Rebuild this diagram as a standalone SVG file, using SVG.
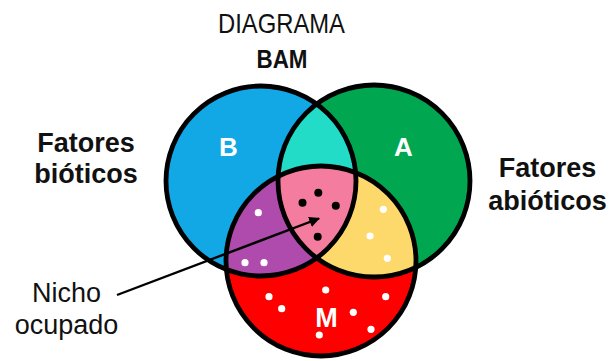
<svg xmlns="http://www.w3.org/2000/svg" width="611" height="361" viewBox="0 0 611 361">
  <style>
    .ring { fill: none; stroke: #000; stroke-width: 4.8; }
    .lbl { font-family: "Liberation Sans", Arial, sans-serif; fill: #111; text-anchor: middle; }
    .bold { font-weight: bold; }
    .set { font-family: "Liberation Sans", Arial, sans-serif; font-weight: bold; fill: #fff; text-anchor: middle; }
    .wdot { fill: #fff; }
    .kdot { fill: #000; }
  </style>
  <defs>
    <clipPath id="clipB"><circle cx="261" cy="181" r="95"/></clipPath>
    <clipPath id="clipA"><circle cx="374" cy="181" r="96"/></clipPath>
    <marker id="head" viewBox="0 0 10 10" refX="9" refY="5" markerWidth="4.5" markerHeight="4.5" orient="auto" markerUnits="strokeWidth">
      <path d="M0,0 L10,5 L0,10 Z" fill="#000"/>
    </marker>
  </defs>

  <rect width="611" height="361" fill="#fff"/>

  <!-- title -->
  <g id="title">
    <text class="lbl" x="281.5" y="33" font-size="28" textLength="127" lengthAdjust="spacingAndGlyphs">DIAGRAMA</text>
    <text class="lbl bold" x="282" y="67.5" font-size="26" textLength="51" lengthAdjust="spacingAndGlyphs">BAM</text>
  </g>

  <!-- set fills -->
  <g id="fills">
    <circle cx="261" cy="181" r="95" fill="#12A8E6"/>
    <circle cx="374" cy="181" r="96" fill="#00A650"/>
    <circle cx="321" cy="261" r="95" fill="#FF0000"/>
    <!-- B ∩ A -->
    <circle cx="374" cy="181" r="96" fill="#22DCC8" clip-path="url(#clipB)"/>
    <!-- B ∩ M -->
    <circle cx="321" cy="261" r="95" fill="#B04BAE" clip-path="url(#clipB)"/>
    <!-- A ∩ M -->
    <circle cx="321" cy="261" r="95" fill="#FDD86A" clip-path="url(#clipA)"/>
    <!-- B ∩ A ∩ M -->
    <g clip-path="url(#clipA)">
      <circle cx="321" cy="261" r="95" fill="#F47C9E" clip-path="url(#clipB)"/>
    </g>
  </g>

  <!-- node B -->
  <g id="node-B">
    <circle class="ring" cx="261" cy="181" r="95"/>
    <text class="set" x="228.5" y="156" font-size="26">B</text>
  </g>

  <!-- node A -->
  <g id="node-A">
    <circle class="ring" cx="374" cy="181" r="96"/>
    <text class="set" x="403.5" y="156" font-size="26">A</text>
  </g>

  <!-- node M -->
  <g id="node-M">
    <circle class="ring" cx="321" cy="261" r="95"/>
    <text class="set" x="326.5" y="327" font-size="27">M</text>
  </g>

  <!-- points -->
  <g id="points">
    <circle class="wdot" cx="258.3" cy="212.7" r="3.6"/>
    <circle class="wdot" cx="245" cy="262.7" r="3.6"/>
    <circle class="wdot" cx="264" cy="262.7" r="3.6"/>
    <circle class="wdot" cx="383.3" cy="209.3" r="3.6"/>
    <circle class="wdot" cx="370" cy="236" r="3.6"/>
    <circle class="wdot" cx="387.3" cy="258.3" r="3.6"/>
    <circle class="wdot" cx="325.7" cy="290" r="3.6"/>
    <circle class="wdot" cx="269" cy="296.7" r="3.6"/>
    <circle class="wdot" cx="281.7" cy="308.7" r="3.6"/>
    <circle class="wdot" cx="353.3" cy="312.3" r="3.6"/>
    <circle class="wdot" cx="385.7" cy="296.7" r="3.6"/>
    <circle class="wdot" cx="371" cy="329.3" r="3.6"/>
    <circle class="wdot" cx="319.3" cy="335" r="3.6"/>
    <circle class="kdot" cx="318.3" cy="192.7" r="4"/>
    <circle class="kdot" cx="302.5" cy="202.8" r="4"/>
    <circle class="kdot" cx="335.8" cy="205.8" r="4"/>
    <circle class="kdot" cx="317.7" cy="236.8" r="4"/>
  </g>

  <!-- side labels -->
  <g id="label-bioticos">
    <text class="lbl bold" x="86" y="151.5" font-size="27">Fatores</text>
    <text class="lbl bold" x="86" y="183.3" font-size="27">bióticos</text>
  </g>
  <g id="label-abioticos">
    <text class="lbl bold" x="547.5" y="176.7" font-size="27">Fatores</text>
    <text class="lbl bold" x="547.5" y="210" font-size="27">abióticos</text>
  </g>
  <g id="label-nicho">
    <text class="lbl" x="66.5" y="301.7" font-size="27">Nicho</text>
    <text class="lbl" x="66.5" y="334" font-size="27">ocupado</text>
  </g>

  <!-- connectors -->
  <g id="connectors">
    <line x1="117" y1="295" x2="319" y2="218.5" stroke="#000" stroke-width="2.4" marker-end="url(#head)"/>
  </g>
</svg>
